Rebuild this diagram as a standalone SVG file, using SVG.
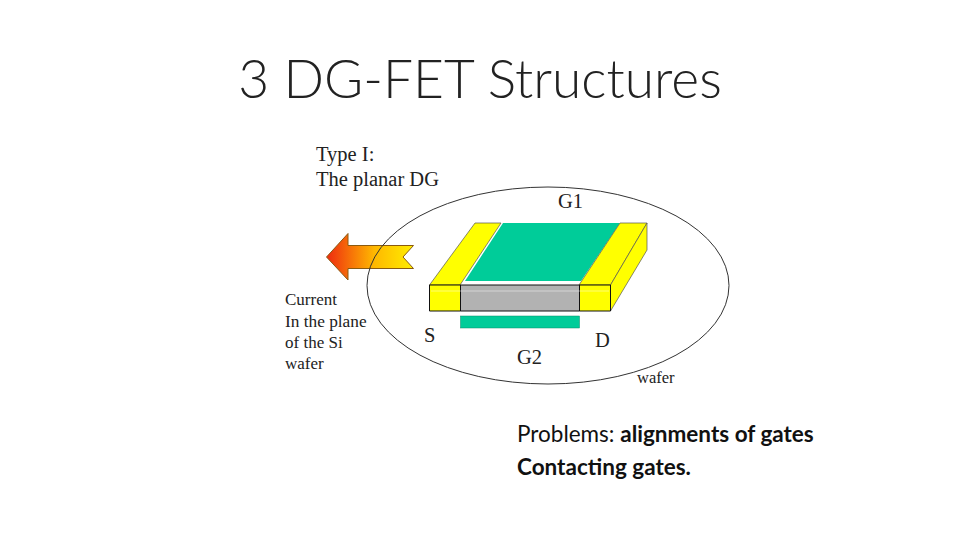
<svg xmlns="http://www.w3.org/2000/svg" width="960" height="540" viewBox="0 0 960 540">
<style>
.t{font-family:"Liberation Serif",serif;fill:#222}
.b{font-family:Lato,"Open Sans",sans-serif;fill:#111;font-size:22.500px}
.k{stroke:#111;stroke-width:1;stroke-linejoin:round}
</style>
<defs><linearGradient id="g" x1="0" x2="1" y1="0" y2="0"><stop offset="0" stop-color="#ee2a10"/><stop offset=".55" stop-color="#ffb800"/><stop offset="1" stop-color="#ffee00"/></linearGradient></defs>
<rect width="960" height="540" fill="#fff"/>
<text id="title" x="480" y="98" text-anchor="middle" font-family="Lato,'Open Sans',sans-serif" font-size="53.300" font-weight="300" fill="#222">3 DG-FET Structures</text>
<g id="arrow"><polygon points="326.500,257 348,233.500 348,245.500 413.500,245.500 403,257 413.500,268.500 348,268.500 348,280" fill="url(#g)" stroke="#8a5a10" stroke-width="1"/></g>
<g id="wafer"><ellipse cx="548" cy="285.500" rx="181" ry="98.500" fill="none" stroke="#333" stroke-width="1"/></g>
<g id="device">
<polygon points="429.500,285 475,223 501,223 460,285" fill="#ffff00" stroke="#555" stroke-width=".7"/>
<polygon points="465,281 503,223 620,223 581,281" fill="#00cc99"/>
<polygon points="620,223 647,223 610.500,285 579,285" fill="#ffff00" stroke="#555" stroke-width=".7"/>
<polygon points="647,223 647,250 610.500,311 610.500,285" fill="#ffff00" stroke="#555" stroke-width=".7"/>
<rect class="k" x="429.500" y="285" width="31" height="26" fill="#ffff00"/>
<rect class="k" x="460.500" y="285" width="119" height="26" fill="#b2b2b2"/>
<rect class="k" x="579.500" y="285" width="31" height="26" fill="#ffff00"/>
<line x1="431" y1="291" x2="609" y2="291" stroke="#fff" stroke-opacity=".45" stroke-width="1"/>
<rect x="460.500" y="316" width="119" height="12" fill="#00cc99" stroke="#0a8a6a" stroke-width=".5"/>
</g>
<g id="labels">
<text class="t" x="316" y="161" font-size="20.500">Type I:</text>
<text class="t" x="316" y="186" font-size="20.500">The planar DG</text>
<text class="t" x="558" y="208" font-size="20.500">G1</text>
<text class="t" x="424" y="342" font-size="20.500">S</text>
<text class="t" x="595" y="347" font-size="20.500">D</text>
<text class="t" x="517" y="364" font-size="20.500">G2</text>
<text class="t" x="637" y="383" font-size="16.500">wafer</text>
<text class="t" x="285" y="305" font-size="17">Current</text>
<text class="t" x="285" y="327" font-size="17.300">In the plane</text>
<text class="t" x="285" y="348" font-size="17">of the Si</text>
<text class="t" x="285" y="369" font-size="17">wafer</text>
</g>
<g id="notes">
<text class="b" x="517" y="442">Problems: <tspan font-weight="700">alignments of gates</tspan></text>
<text class="b" x="517" y="475" font-weight="700">Contacting gates.</text>
</g>
</svg>
